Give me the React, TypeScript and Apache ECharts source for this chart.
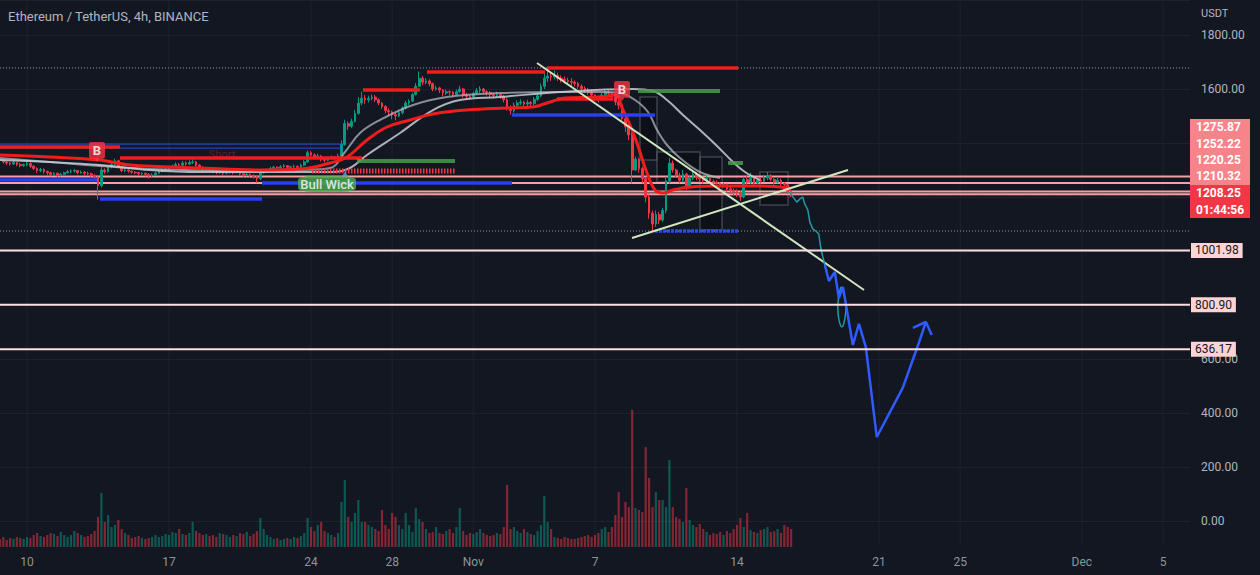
import React, { useEffect, useRef } from 'react';
import * as echarts from 'echarts';

// ---------- axis ticks (days since 10 Oct 2022 00:00) ----------
const dayLabels = ['10', '17', '24', '28', 'Nov', '7', '14', '21', '25', 'Dec', '5'];
const dayOffsets = [0, 7, 14, 18, 22, 28, 35, 42, 46, 52, 56];
const viewStartDay = -1.331;
const viewEndDay = 57.33;
const priceMin = -200;
const priceMax = 1929.63;
const priceStep = 200;
const hiddenPriceLabels = [1400, 1200, 1000, 800];

// ---------- 4h candles, first one = 8 Oct 16:00 ----------
const firstCandleDay = -4 / 3;
const candleHours = 4;
const firstOpen = 1340;
const closes = [
  1336, 1330,
  1326, 1322, 1328, 1320, 1316, 1320,
  1324, 1314, 1306, 1298, 1302, 1294,
  1290, 1284, 1288, 1280, 1284, 1290,
  1294, 1296, 1298, 1290, 1292, 1288,
  1286, 1280, 1274, 1242, 1300, 1294,
  1312, 1320, 1334, 1312, 1298, 1300,
  1296, 1292, 1290, 1286, 1288, 1284,
  1278, 1282, 1288, 1294, 1300, 1304,
  1310, 1314, 1320, 1318, 1326, 1322,
  1328, 1330, 1318, 1310, 1300, 1306,
  1300, 1296, 1290, 1294, 1288, 1290,
  1294, 1290, 1296, 1286, 1282, 1284,
  1280, 1276, 1268, 1290, 1298, 1300,
  1306, 1310, 1308, 1312, 1316, 1310,
  1312, 1314, 1310, 1318, 1330, 1364,
  1356, 1348, 1352, 1340, 1336, 1344,
  1348, 1346, 1352, 1394, 1472, 1462,
  1480, 1510, 1548, 1566, 1560, 1565,
  1570, 1560, 1548, 1535, 1520, 1515,
  1505, 1500, 1512, 1530, 1548, 1555,
  1580, 1610, 1640, 1625, 1630, 1620,
  1600, 1604, 1596, 1585, 1590, 1588,
  1580, 1590, 1600, 1578, 1572, 1570,
  1584, 1594, 1600, 1590, 1586, 1580,
  1576, 1580, 1574, 1560, 1530, 1520,
  1540, 1548, 1552, 1544, 1550, 1546,
  1562, 1575, 1610, 1640, 1648, 1645,
  1650, 1640, 1636, 1632, 1628, 1625,
  1620, 1610, 1602, 1596, 1588, 1578,
  1570, 1564, 1578, 1590, 1584, 1570,
  1552, 1540, 1490, 1460, 1430, 1300,
  1340, 1305, 1268, 1200, 1140, 1100,
  1135, 1115, 1150, 1260, 1325, 1300,
  1280, 1262, 1285, 1240, 1270, 1285,
  1275, 1268, 1262, 1270, 1258, 1255,
  1250, 1240, 1246, 1230, 1224, 1220,
  1215, 1200, 1265, 1255, 1270, 1252,
  1262, 1258, 1270, 1280, 1265, 1255,
  1262, 1250, 1245, 1220, 1208.25,
];
const highs = [
  1348, 1340,
  1334, 1330, 1334, 1330, 1326, 1324,
  1330, 1328, 1318, 1310, 1308, 1306,
  1298, 1294, 1292, 1290, 1290, 1294,
  1300, 1302, 1304, 1300, 1298, 1296,
  1294, 1290, 1284, 1280, 1312, 1306,
  1316, 1328, 1342, 1338, 1316, 1306,
  1304, 1298, 1296, 1294, 1292, 1290,
  1288, 1288, 1294, 1300, 1306, 1310,
  1316, 1320, 1328, 1326, 1334, 1332,
  1336, 1340, 1334, 1322, 1314, 1310,
  1310, 1304, 1300, 1300, 1296, 1296,
  1300, 1298, 1304, 1298, 1292, 1290,
  1288, 1284, 1280, 1294, 1304, 1306,
  1312, 1316, 1314, 1318, 1322, 1318,
  1316, 1320, 1316, 1324, 1336, 1372,
  1370, 1362, 1360, 1356, 1346, 1350,
  1354, 1352, 1360, 1410, 1486, 1480,
  1490, 1522, 1570, 1590, 1578, 1575,
  1580, 1578, 1566, 1552, 1540, 1528,
  1520, 1512, 1520, 1536, 1556, 1562,
  1586, 1622, 1665, 1648, 1640, 1636,
  1624, 1612, 1608, 1600, 1598, 1595,
  1592, 1598, 1612, 1604, 1586, 1580,
  1590, 1604, 1610, 1604, 1596, 1592,
  1586, 1590, 1584, 1578, 1565, 1540,
  1550, 1558, 1562, 1556, 1560, 1556,
  1570, 1585, 1620, 1660, 1680, 1660,
  1668, 1660, 1650, 1646, 1642, 1640,
  1632, 1626, 1618, 1610, 1604, 1596,
  1580, 1576, 1585, 1600, 1596, 1590,
  1575, 1560, 1545, 1500, 1470, 1440,
  1350, 1345, 1312, 1275, 1210, 1150,
  1150, 1145, 1160, 1275, 1345, 1335,
  1305, 1290, 1300, 1290, 1282, 1295,
  1292, 1284, 1276, 1280, 1275, 1265,
  1262, 1256, 1254, 1250, 1238, 1232,
  1228, 1222, 1275, 1280, 1290, 1276,
  1270, 1272, 1282, 1292, 1285, 1270,
  1270, 1268, 1255, 1250, 1228,
];
const lows = [
  1330, 1324,
  1318, 1316, 1320, 1314, 1310, 1312,
  1314, 1308, 1300, 1290, 1292, 1286,
  1282, 1276, 1280, 1272, 1276, 1280,
  1286, 1288, 1290, 1284, 1286, 1282,
  1280, 1274, 1268, 1190, 1236, 1286,
  1290, 1306, 1314, 1306, 1292, 1292,
  1290, 1286, 1284, 1280, 1282, 1276,
  1268, 1274, 1280, 1286, 1292, 1296,
  1300, 1306, 1312, 1310, 1314, 1316,
  1318, 1322, 1312, 1302, 1292, 1298,
  1294, 1288, 1284, 1286, 1280, 1284,
  1286, 1284, 1288, 1278, 1274, 1276,
  1272, 1268, 1252, 1262, 1286, 1292,
  1298, 1302, 1302, 1304, 1308, 1304,
  1306, 1308, 1304, 1308, 1314, 1326,
  1350, 1340, 1342, 1332, 1328, 1332,
  1340, 1338, 1342, 1350, 1390, 1448,
  1455, 1476, 1505, 1540, 1545, 1550,
  1558, 1552, 1540, 1526, 1510, 1500,
  1488, 1484, 1496, 1506, 1525, 1540,
  1552, 1576, 1606, 1615, 1618, 1610,
  1592, 1594, 1585, 1572, 1578, 1576,
  1570, 1576, 1586, 1568, 1560, 1560,
  1566, 1580, 1586, 1582, 1576, 1570,
  1566, 1570, 1564, 1550, 1520, 1505,
  1512, 1534, 1540, 1532, 1536, 1534,
  1540, 1555, 1570, 1600, 1626, 1630,
  1636, 1630, 1624, 1620, 1616, 1612,
  1610, 1600, 1592, 1586, 1578, 1566,
  1556, 1550, 1560, 1572, 1572, 1560,
  1540, 1525, 1480, 1440, 1410, 1250,
  1296, 1290, 1250, 1180, 1120, 1075,
  1090, 1100, 1108, 1140, 1250, 1290,
  1270, 1250, 1255, 1225, 1232, 1262,
  1262, 1258, 1250, 1255, 1248, 1245,
  1240, 1232, 1236, 1218, 1212, 1205,
  1200, 1185, 1195, 1245, 1248, 1245,
  1248, 1250, 1255, 1262, 1258, 1245,
  1250, 1240, 1232, 1212, 1200,
];
const volumes = [
  8, 10,
  7, 9, 8, 10, 9, 8,
  10, 9, 12, 14, 11, 10,
  12, 14, 13, 11, 15, 12,
  10, 12, 16, 14, 12, 10,
  11, 13, 16, 30, 54, 25,
  32, 20, 22, 27, 18, 14,
  12, 9, 10, 11, 9, 8,
  9, 10, 12, 10, 11, 13,
  12, 15, 14, 18, 13, 12,
  14, 25, 16, 14, 12, 13,
  11, 12, 10, 14, 13, 12,
  10, 12, 11, 14, 13, 15,
  11, 13, 16, 29, 18, 12,
  10, 8, 9, 7, 8, 9,
  8, 10, 9, 11, 14, 29,
  20, 16, 22, 25, 16, 14,
  12, 10, 14, 45, 67, 30,
  25, 34, 47, 25, 25, 22,
  20, 18, 16, 37, 22, 18,
  34, 30, 22, 18, 34, 22,
  15, 39, 28, 25, 18, 14,
  15, 20, 14, 13, 16, 18,
  14, 20, 39, 16, 12, 14,
  13, 15, 18, 14, 12, 11,
  12, 14, 13, 20, 62, 18,
  20, 16, 14, 18, 15, 13,
  12, 16, 22, 51, 25, 18,
  10, 9, 8, 10, 9, 8,
  8, 9, 10, 11, 12, 10,
  12, 14, 18, 20, 15, 20,
  32, 55, 30, 45, 40, 137,
  39, 37, 35, 100, 69, 40,
  55, 47, 47, 40, 87, 40,
  30, 28, 25, 59, 27, 22,
  20, 23, 18, 15, 12, 14,
  13, 15, 12, 16, 14, 18,
  22, 29, 20, 34, 17, 15,
  14, 17, 18, 20, 15, 16,
  18, 14, 22, 20, 18,
];

// ---------- indicator curves [day, price] ----------
const redAverage = [
  [-1.331, 1355.6], [1.134, 1348.1], [3.599, 1337.0], [5.077, 1318.5], [8.528, 1307.4],
  [11.486, 1300.0], [13.458, 1303.7], [14.936, 1325.9], [15.775, 1348.1], [16.76, 1411.1],
  [17.746, 1459.3], [18.88, 1485.2], [20.014, 1507.4], [21.69, 1522.2], [23.662, 1529.6],
  [24.943, 1533.3], [25.781, 1551.9], [26.521, 1566.7], [28.246, 1570.4], [28.986, 1577.8],
  [29.38, 1522.2], [29.725, 1466.7], [30.07, 1400.0], [30.563, 1288.9], [30.958, 1225.9],
  [31.352, 1214.8], [31.845, 1225.9], [32.683, 1237.0], [34.162, 1240.7], [36.133, 1240.7],
  [37.612, 1233.3],
];
const slowAverage = [
  [-1.331, 1337.0], [1.134, 1329.6], [3.599, 1318.5], [6.063, 1300.0], [8.528, 1292.6],
  [11.486, 1292.6], [13.458, 1292.6], [15.084, 1292.6], [15.922, 1307.4], [16.76, 1355.6],
  [18.387, 1437.0], [20.014, 1522.2], [21.345, 1559.3], [23.317, 1570.4], [26.274, 1588.9],
  [29.873, 1600.0], [30.859, 1592.6], [31.549, 1559.3], [32.338, 1503.7], [33.176, 1448.1],
  [34.014, 1388.9], [34.803, 1329.6], [35.394, 1292.6], [36.133, 1263.0],
];
const fastAverage = [
  [-1.331, 1344.4], [1.134, 1329.6], [3.599, 1314.8], [6.063, 1303.7], [10.993, 1296.3],
  [13.458, 1300.0], [14.936, 1307.4], [15.676, 1366.7], [16.415, 1437.0], [17.401, 1485.2],
  [19.028, 1540.7], [20.704, 1570.4], [23.317, 1585.2], [26.274, 1588.9], [28.246, 1588.9],
  [29.232, 1585.2], [29.972, 1559.3], [30.613, 1514.8], [31.056, 1448.1], [31.549, 1392.6],
  [32.19, 1344.4], [33.176, 1292.6], [34.162, 1270.4],
];

// ---------- drawn projections [day, price] ----------
const tealProjection = [
  [37.6, 1219], [37.8, 1196], [37.95, 1181], [38.1, 1193], [38.24, 1200], [38.34, 1174],
  [38.49, 1152], [38.59, 1107], [38.74, 1081], [38.89, 1074], [39.03, 1063], [39.13, 1011],
  [39.23, 978], [39.33, 948],
];
const tealLoop = [
  [40.12, 867], [40.3, 833], [40.37, 793], [40.32, 752], [40.17, 719], [40.02, 748],
  [39.97, 789], [40.02, 833], [40.12, 867],
];
const blueForecast = [
  [39.33, 948], [39.53, 889], [39.82, 922], [40.02, 826], [40.22, 867], [40.71, 652],
  [41.01, 730], [41.35, 644], [41.89, 311], [43.17, 493], [43.91, 648], [44.31, 737],
];
const blueArrowHead = [[43.67, 715], [44.31, 737], [44.6, 689]];

// ---------- trend lines [day, price] ----------
const trendDown = [[25.14, 1696.3], [41.26, 855.6]];
const trendUp = [[29.824, 1048.1], [40.471, 1300.0]];

// ---------- levels [price, fromDay, toDay] ----------
const redLevels = [
  [1385, -1.331, 4.584], [1344, 4.584, 16.514], [1596, 16.563, 19.371],
  [1663, 19.716, 25.534], [1678, 25.633, 35.049], [1563, 26.126, 28.887],
];
const thinBlueLevels = [[1396, -1.331, 15.577], [1381, -1.331, 15.577]];
const blueLevels = [
  [1263, -1.331, 3.451], [1193, 3.599, 11.585], [1252, 11.585, 23.908],
  [1504, 23.908, 30.958],
];
const dottedBlueLevels = [[1074, 30.958, 35.049]];
const greenLevels = [[1333, 16.268, 21.099], [1593, 30.12, 34.162], [1326, 34.557, 35.295]];
const redCrossLevels = [[1296, 14.049, 21.099]];
const pinkLevels = [1275.87, 1252.22, 1220.25, 1210.32];
const targetLevels = [1001.98, 800.9, 636.17];
const dottedLevels = [1678, 1074];
const lastPrice = 1208.25;
const countdown = '01:44:56';
const boxes = [
  [30.218, 1570.4, 31.056, 1337.0], [31.056, 1366.7, 33.176, 1255.6],
  [33.176, 1348.1, 34.261, 1077.8], [36.133, 1292.6, 37.513, 1170.4],
];

// ---------- signal labels ----------
const buySignals = [[3.451, 1366.7], [29.331, 1592.6]];
const bullWick = [14.789, 1248.1];
const bullWickArrow = [15.676, 1285];
const shortNote = [9.613, 1355.6];

const FONT = 'Roboto, "DejaVu Sans", sans-serif';
const UP = '#089981';
const DOWN = '#f23645';

function seg(data: number[][], color: string, width: number, type: any = 'solid', z = 2, opacity = 1, smooth: any = false) {
  return {
    type: 'line', xAxisIndex: 0, yAxisIndex: 0, data, symbol: 'none', silent: true, smooth,
    lineStyle: { color, width, type, opacity, cap: 'butt' }, z, emphasis: { disabled: true },
  };
}

function buildOption() {
  const candles = closes.map((c, i) => {
    const o = i === 0 ? firstOpen : closes[i - 1];
    const h = Math.max(highs[i], o, c);
    const l = Math.min(lows[i], o, c);
    return [firstCandleDay + (i * candleHours) / 24, o, c, l, h];
  });
  const volData = volumes.map((v, i) => ({
    value: [candles[i][0], v],
    itemStyle: { color: candles[i][2] >= candles[i][1] ? 'rgba(8,153,129,0.5)' : 'rgba(242,54,69,0.5)' },
  }));

  const series: any[] = [];
  // vertical grid lines
  dayOffsets.forEach((d) => series.push(seg([[d, -88], [d, 2000]], '#1e222d', 1, 'solid', 0)));
  // boxes
  series.push({
    type: 'line', data: [], xAxisIndex: 0, yAxisIndex: 0, silent: true, z: 1,
    markArea: {
      silent: true,
      itemStyle: { color: 'rgba(0,0,0,0.3)', borderColor: 'rgba(120,123,134,0.45)', borderWidth: 1.5 },
      data: boxes.map((b) => [{ coord: [b[0], b[1]] }, { coord: [b[2], b[3]] }]),
    },
  });
  // dotted full-width lines
  dottedLevels.forEach((p) => series.push(seg([[viewStartDay, p], [viewEndDay, p]], '#9598a1', 1, [1, 2], 1)));
  series.push(seg([[viewStartDay, lastPrice], [viewEndDay, lastPrice]], '#f23645', 1, [1, 2], 1));
  // pink levels
  pinkLevels.forEach((p) => series.push(seg([[viewStartDay, p], [viewEndDay, p]], '#f7a0a3', 2, 'solid', 2)));
  // target levels with tags
  targetLevels.forEach((p) => {
    const s: any = seg([[viewStartDay, p], [viewEndDay, p]], '#fbdfe0', 2, 'solid', 2);
    s.endLabel = {
      show: true, formatter: p.toFixed(2), distance: 1, backgroundColor: '#fdd3d5', color: '#131722',
      padding: [2, 4, 1, 4], fontSize: 12, fontFamily: FONT,
    };
    s.z = 20;
    series.push(s);
  });
  // candles
  series.push({
    type: 'candlestick', xAxisIndex: 0, yAxisIndex: 0, data: candles, barWidth: 2.2,
    encode: { x: 0, y: [1, 2, 3, 4] }, silent: true, z: 3,
    itemStyle: { color: UP, color0: DOWN, borderColor: UP, borderColor0: DOWN, borderWidth: 1 },
  });
  // volume
  series.push({ type: 'bar', xAxisIndex: 1, yAxisIndex: 1, data: volData, barWidth: 2.2, silent: true, z: 1 });
  // moving averages
  series.push(seg(fastAverage, '#b2b5be', 2, 'solid', 4, 0.75, 0.4));
  series.push(seg(slowAverage, '#c9ccd3', 2, 'solid', 4, 0.85, 0.4));
  series.push(seg(redAverage, '#f21c1c', 3, 'solid', 5, 1, 0.4));
  // levels
  thinBlueLevels.forEach((l) => series.push(seg([[l[1], l[0]], [l[2], l[0]]], '#2962ff', 1, 'solid', 5, 0.8)));
  redLevels.forEach((l) => series.push(seg([[l[1], l[0]], [l[2], l[0]]], '#f21c1c', 3.5, 'solid', 6)));
  blueLevels.forEach((l) => series.push(seg([[l[1], l[0]], [l[2], l[0]]], '#2a3ff0', 3.5, 'solid', 6)));
  dottedBlueLevels.forEach((l) => series.push(seg([[l[1], l[0]], [l[2], l[0]]], '#2a4bf2', 3.5, [3, 1], 6)));
  greenLevels.forEach((l) => series.push(seg([[l[1], l[0]], [l[2], l[0]]], '#43a047', 4, 'solid', 6, 0.85)));
  redCrossLevels.forEach((l) => series.push(seg([[l[1], l[0]], [l[2], l[0]]], '#f23645', 5, [1.5, 1.5], 6)));
  // trend lines
  series.push(seg(trendDown, '#cfe6bf', 2, 'solid', 7));
  series.push(seg(trendUp, '#cfe6bf', 2, 'solid', 7));
  // projections
  series.push(seg(tealProjection, '#1f9aa6', 1.5, 'solid', 7));
  series.push(seg(tealLoop, '#1f9aa6', 1.5, 'solid', 7, 1, 0.5));
  series.push(seg(blueForecast, '#2f5bff', 2.5, 'solid', 8));
  series.push(seg(blueArrowHead, '#2f5bff', 2.5, 'solid', 8));
  // x labels
  series.push({
    type: 'scatter', xAxisIndex: 0, yAxisIndex: 0, silent: true, z: 10, symbolSize: 1,
    itemStyle: { color: 'rgba(0,0,0,0)' },
    data: dayOffsets.map((d, i) => ({ value: [d, -152], name: dayLabels[i] })),
    label: { show: true, position: 'inside', formatter: '{b}', color: '#b2b5be', fontSize: 12, fontFamily: FONT },
  });
  // signal badges
  series.push({
    type: 'scatter', xAxisIndex: 0, yAxisIndex: 0, silent: true, z: 12,
    symbol: 'path://M2,0 H12 A2,2 0 0 1 14,2 V14 A2,2 0 0 1 12,16 H9 L7,19 L5,16 H2 A2,2 0 0 1 0,14 V2 A2,2 0 0 1 2,0 Z',
    symbolSize: [16, 20], itemStyle: { color: '#f23645' },
    data: buySignals,
    label: { show: true, position: 'inside', offset: [0, -1], formatter: 'B', color: '#fff', fontSize: 13, fontWeight: 'bold', fontFamily: FONT },
  });
  series.push({
    type: 'scatter', xAxisIndex: 0, yAxisIndex: 0, silent: true, z: 12,
    symbol: 'roundRect', symbolSize: [58, 16], itemStyle: { color: '#4caf50' },
    data: [bullWick],
    label: { show: true, position: 'inside', formatter: 'Bull Wick', color: '#fff', fontSize: 13, fontWeight: 500, fontFamily: FONT },
  });
  series.push({
    type: 'scatter', xAxisIndex: 0, yAxisIndex: 0, silent: true, z: 12,
    symbol: 'triangle', symbolSize: [6, 5], itemStyle: { color: '#5b9cf6' }, data: [bullWickArrow],
  });
  series.push({
    type: 'scatter', xAxisIndex: 0, yAxisIndex: 0, silent: true, z: 2, symbolSize: 1,
    itemStyle: { color: 'rgba(0,0,0,0)' }, data: [shortNote],
    label: { show: true, position: 'inside', formatter: 'Short', color: 'rgba(242,54,69,0.4)', fontSize: 11, fontFamily: FONT },
  });

  const tagTexts = [...pinkLevels.map((p) => p.toFixed(2)), lastPrice.toFixed(2), countdown];
  const tagY = [127, 143.5, 160, 176, 193, 210];

  return {
    animation: false,
    backgroundColor: '#131722',
    textStyle: { fontFamily: FONT },
    grid: [
      { left: 0, right: 70, top: 0, bottom: 0 },
      { left: 0, right: 70, top: 410, bottom: 28 },
    ],
    xAxis: [
      { type: 'value', gridIndex: 0, min: viewStartDay, max: viewEndDay, show: false },
      { type: 'value', gridIndex: 1, min: viewStartDay, max: viewEndDay, show: false },
    ],
    yAxis: [
      {
        type: 'value', gridIndex: 0, position: 'right', min: priceMin, max: priceMax, interval: priceStep,
        axisLine: { show: false }, axisTick: { show: false },
        splitLine: { lineStyle: { color: '#1e222d', width: 1 } },
        axisLabel: {
          color: '#b2b5be', fontSize: 12, margin: 11, fontFamily: FONT, showMaxLabel: false,
          formatter: (v: number) => (v < 0 || v > 1800 || hiddenPriceLabels.indexOf(v) >= 0 ? '' : v.toFixed(2)),
        },
      },
      { type: 'value', gridIndex: 1, min: 0, max: 137, show: false },
    ],
    series,
    graphic: [
      { type: 'text', x: 8, y: 16, z: 100, style: { text: 'Ethereum / TetherUS, 4h, BINANCE', fill: '#b2b5be', font: `13px ${FONT}`, verticalAlign: 'middle' } },
      { type: 'text', x: 1201, y: 13, z: 100, style: { text: 'USDT', fill: '#b2b5be', font: `11px ${FONT}`, verticalAlign: 'middle' } },
      { type: 'rect', z: 100, shape: { x: 1190, y: 119, width: 60, height: 66 }, style: { fill: '#f7848a' } },
      { type: 'rect', z: 100, shape: { x: 1190, y: 185, width: 60, height: 33 }, style: { fill: '#f23645' } },
      ...tagTexts.map((t, i) => ({
        type: 'text', z: 101, x: 1196, y: tagY[i],
        style: { text: t, fill: '#ffffff', font: `bold 12px ${FONT}`, verticalAlign: 'middle' },
      })),
    ],
  };
}

export default function App() {
  const ref = useRef<HTMLDivElement>(null);
  useEffect(() => {
    if (!ref.current) return;
    document.body.style.margin = '0';
    document.body.style.background = '#131722';
    const chart = echarts.init(ref.current, null, { renderer: 'svg' });
    chart.setOption(buildOption() as any);
    return () => chart.dispose();
  }, []);
  return <div ref={ref} style={{ position: 'fixed', left: 0, top: 0, width: 1260, height: 575 }} />;
}
